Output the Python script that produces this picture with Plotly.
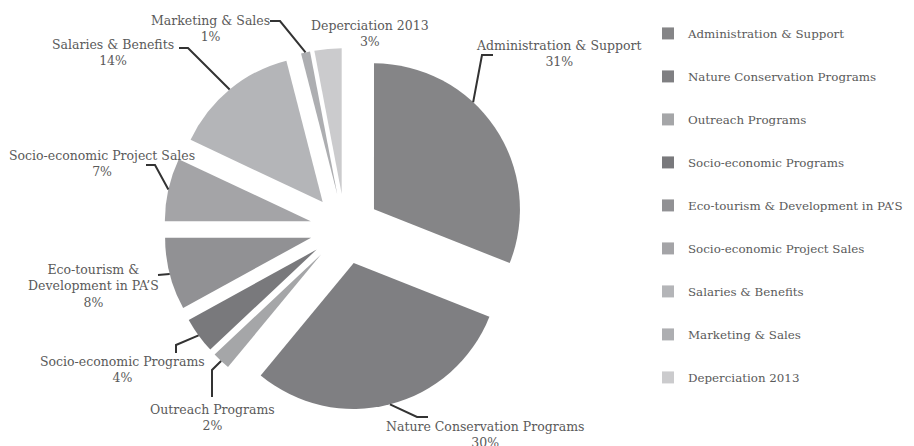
import math
import plotly.graph_objects as go

categories = ["Administration & Support", "Nature Conservation Programs", "Outreach Programs",
              "Socio-economic Programs", "Eco-tourism & Development in PA’S",
              "Socio-economic Project Sales", "Salaries & Benefits", "Marketing & Sales",
              "Deperciation 2013"]
display_labels = ["Administration & Support", "Nature Conservation Programs", "Outreach Programs",
                  "Socio-economic Programs", "Eco-tourism &<br>Development in PA’S",
                  "Socio-economic Project Sales", "Salaries & Benefits", "Marketing & Sales",
                  "Deperciation 2013"]
values = [31, 30, 2, 4, 8, 7, 14, 1, 3]
colors = ["#858587", "#7f7f82", "#a5a6a8", "#79797c", "#919194",
          "#a4a4a7", "#b4b5b8", "#adaeb1", "#cbcbcd"]

# ---- layout / styling (screen pixels; page body has an 8px margin) ----
W, H = 914, 446
OFF = 8
FONT = "DejaVu Serif"
FS = 12.5
FS_LEG = 11.85
TXT = "#5a5a5a"
LINE = "#333333"
PULL = 0.24
DOM_X = (164, 526)
DOM_Y = (48, 410)
label_pos = [(559, 54), (485, 434), (212, 417), (122, 369), (93, 286),
             (102, 163), (113, 53), (210, 28), (370, 34)]
leader_elbow = [(482, 55), (417, 417), (212, 370), (176, 345), (158, 275),
                (155, 165), (188, 48), (280, 21), None]
leader_end = [(493, 55), (428, 417), (212, 397), (176, 353), (158, 275),
              (146, 165), (179, 48), (270, 21), None]
leader_angle_shift = [-13, 0, 0, 0, 0, 0, 0, 0, 0]


def X(px):
    return (px - OFF) / W


def Y(py):
    return 1 - (py - OFF) / H


fig = go.Figure()

for i, (c, col) in enumerate(zip(categories, colors)):
    fig.add_trace(go.Scatter(
        x=[None], y=[None], mode="markers", name=c,
        marker=dict(symbol="square", size=12, color=col),
        legendgroup=f"g{i}", showlegend=True, hoverinfo="skip",
    ))

fig.add_trace(go.Pie(
    labels=categories, values=values,
    marker=dict(colors=colors, line=dict(width=0)),
    sort=False, direction="clockwise", rotation=0,
    pull=[PULL] * len(values),
    textinfo="none",
    domain=dict(x=[X(DOM_X[0]), X(DOM_X[1])], y=[Y(DOM_Y[1]), Y(DOM_Y[0])]),
    showlegend=False, hoverinfo="label+percent",
))

# pie geometry (same sizing rule plotly uses) for the leader lines
cx = (DOM_X[0] + DOM_X[1]) / 2
cy = (DOM_Y[0] + DOM_Y[1]) / 2
r = min(DOM_X[1] - DOM_X[0], DOM_Y[1] - DOM_Y[0]) / 2 / (1 + PULL)
total = sum(values)
cum = 0
shapes = []
annotations = []
for i, v in enumerate(values):
    mid = (cum + v / 2) / total * 360
    cum += v
    a = math.radians(mid)
    apx, apy = cx + PULL * r * math.sin(a), cy - PULL * r * math.cos(a)
    la = math.radians(mid + leader_angle_shift[i])
    sx, sy = apx + r * math.sin(la), apy - r * math.cos(la)
    if leader_elbow[i] is not None:
        ex, ey = leader_elbow[i]
        fx, fy = leader_end[i]
        path = f"M {X(sx)},{Y(sy)} L {X(ex)},{Y(ey)} L {X(fx)},{Y(fy)}"
        shapes.append(dict(type="path", xref="paper", yref="paper", path=path,
                           line=dict(color=LINE, width=2)))
    lx, ly = label_pos[i]
    annotations.append(dict(
        x=X(lx), y=Y(ly), xref="paper", yref="paper",
        xanchor="center", yanchor="middle", align="center", showarrow=False,
        text=f"{display_labels[i]}<br>{round(v / total * 100)}%",
        font=dict(family=FONT, size=FS, color=TXT),
    ))

fig.update_layout(
    width=W, height=H,
    margin=dict(l=0, r=0, t=0, b=0),
    paper_bgcolor="white", plot_bgcolor="white",
    xaxis=dict(visible=False), yaxis=dict(visible=False),
    legend=dict(x=0.7002, y=0.9755, xanchor="left", yanchor="top",
                font=dict(family=FONT, size=FS_LEG, color=TXT),
                tracegroupgap=24, itemwidth=30, bgcolor="rgba(0,0,0,0)"),
    shapes=shapes, annotations=annotations,
    font=dict(family=FONT, color=TXT),
)

fig.write_html("out.html")
